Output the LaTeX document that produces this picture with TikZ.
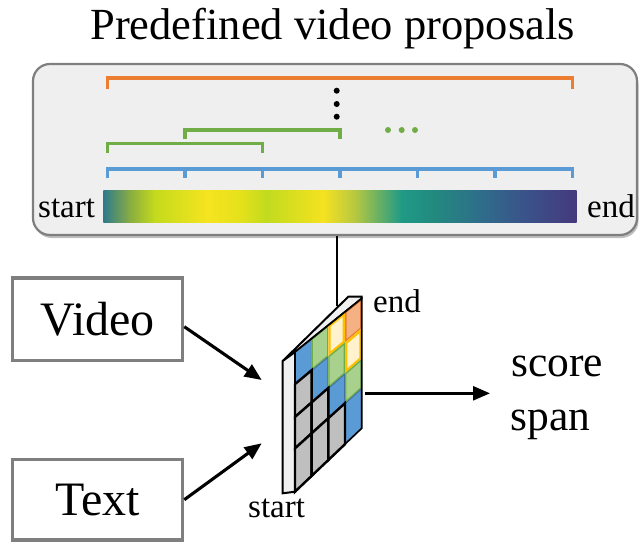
\documentclass[tikz,border=0pt]{standalone}
\usepackage{fontspec}
\setmainfont{Liberation Serif}
\usetikzlibrary{calc,arrows.meta,shadows}

\definecolor{boxfill}{HTML}{EFEFEF}
\definecolor{boxline}{HTML}{7F7F7F}
\definecolor{propOrange}{HTML}{ED7D31}
\definecolor{propGreen}{HTML}{70AD47}
\definecolor{propBlue}{HTML}{5B9BD5}
\definecolor{cBlueF}{HTML}{5B9BD5}
\definecolor{cBlueD}{HTML}{41719C}
\definecolor{cGreenF}{HTML}{A9D18E}
\definecolor{cGreenD}{HTML}{70AD47}
\definecolor{cYellowF}{HTML}{FFF2CC}
\definecolor{cYellowD}{HTML}{FFC000}
\definecolor{cOrangeF}{HTML}{F4B183}
\definecolor{cOrangeD}{HTML}{ED7D31}
\definecolor{cGrayF}{HTML}{BFBFBF}
\definecolor{slab}{HTML}{F0F0F0}

% colour ramp of the feature bar (the bar spans 25bp..75bp of the shading)
\definecolor{v0}{HTML}{2E7A8C}
\definecolor{v1}{HTML}{8DB03E}
\definecolor{v2}{HTML}{C4DB1C}
\definecolor{v3}{HTML}{F6E41F}
\definecolor{v4}{HTML}{E4E11B}
\definecolor{v5}{HTML}{C2DB1E}
\definecolor{v6}{HTML}{F5E220}
\definecolor{v7}{HTML}{B8C93F}
\definecolor{v8}{HTML}{1F9A86}
\definecolor{v9}{HTML}{23897F}
\definecolor{v10}{HTML}{2F6C8B}
\definecolor{v11}{HTML}{3B5089}
\definecolor{v12}{HTML}{45397D}
\pgfdeclarehorizontalshading{featbar}{100bp}{%
  color(0bp)=(v0); color(25bp)=(v0); color(28bp)=(v1); color(30.5bp)=(v2);
  color(36bp)=(v3); color(39.5bp)=(v4); color(42.25bp)=(v5); color(48.25bp)=(v6);
  color(51.5bp)=(v7); color(56.5bp)=(v8); color(60bp)=(v9); color(65bp)=(v10);
  color(70bp)=(v11); color(75bp)=(v12); color(100bp)=(v12)}

\begin{document}
\begin{tikzpicture}[x=1pt,y=-1pt,
  lbl/.style={inner sep=0pt, font=\fontsize{33}{36}\selectfont},
  bigtxt/.style={inner sep=0pt, font=\fontsize{43.5}{48}\selectfont},
  inbox/.style={draw=boxline, line width=3.2pt, fill=white, minimum width=170pt,
    inner sep=0pt, font=\fontsize{48}{52}\selectfont},
  bracket/.style={line width=3.5pt, line join=miter, line cap=butt},
  arrow/.style={line width=3.1pt, -{Triangle[length=17pt,width=14pt]}},
  cell0/.style={fill=cBlueF, draw=cBlueD, line width=1.8pt},
  cell1/.style={fill=cGreenF, draw=cGreenD, line width=2.6pt},
  cell2/.style={fill=cYellowF, draw=cYellowD, line width=4.6pt},
  cell3/.style={fill=cOrangeF, draw=cOrangeD, line width=3pt},
  cellg/.style={fill=cGrayF, draw=black, line width=2.4pt},
  slabface/.style={fill=slab, draw=black, line width=2pt, line join=miter}
]
\useasboundingbox (0,0) rectangle (644,541);
\fill[white] (0,0) rectangle (644,541);

% title
\node[anchor=base, inner sep=0pt, font=\fontsize{44.5}{50}\selectfont]
  (title) at (332.5,39.3) {Predefined video proposals};

% proposal panel
\node[draw=boxline, line width=2.2pt, fill=boxfill, rounded corners=17pt,
  minimum width=604pt, minimum height=171pt,
  drop shadow={shadow xshift=1.5pt, shadow yshift=-3pt, opacity=0.25, fill=black}]
  (props) at (335,149.5) {};

% proposal brackets
\draw[bracket, propOrange] (107.5,89) -- (107.5,78) -- (572.5,78) -- (572.5,89);
\draw[bracket, propGreen] (185,139) -- (185,130) -- (340,130) -- (340,139);
\draw[bracket, propGreen] (107.5,153) -- (107.5,143.5) -- (262.5,143.5) -- (262.5,153);
\draw[bracket, propBlue] (107.5,178) -- (107.5,169) -- (572.5,169) -- (572.5,178);
\foreach \k in {1,...,5}
  \draw[bracket, propBlue] (107.5+77.5*\k,169) -- (107.5+77.5*\k,178);

% ellipses
\foreach \yy in {90.7,104,116.7}
  \fill[black] (336.7,\yy) circle (3pt);
\foreach \xx in {388,401.7,415}
  \fill[propGreen] (\xx,130) circle (3pt);

% feature bar
\shade[shading=featbar] (103.3,190) rectangle (576.7,222.7);
\node[lbl, anchor=base west] (startT) at (38,217.5) {start};
\node[lbl, anchor=base west] (endT) at (587,217.5) {end};

% inputs
\node[inbox, minimum height=82.7pt] (vidbox) at (97.7,319.3) {Video};
\node[inbox, minimum height=80.7pt] (txtbox) at (97.7,499.7) {Text};

% link from the panel to the score map
\coordinate (mtop) at (336.7,306);
\draw[line width=2pt] (props.south -| mtop) -- (mtop);

% score map slab
\coordinate (TL) at (295,352);
\coordinate (TR) at (361.7,298.5);
\coordinate (BR) at (361.7,428.3);
\coordinate (BL) at (295,491.7);
\draw[slabface] (282.7,361) -- (348.3,296.7) -- (361.7,296.7) -- (TR) -- (TL) -- cycle;
\draw[slabface] (282.7,361) -- (TL) -- (BL) -- (282.7,493.3) -- cycle;

\foreach \i/\fv in {0/0,1/0.23,2/0.465,3/0.69,4/1}{
  \foreach \j/\fu in {0/0,1/0.25,2/0.5,3/0.75,4/1}{
    \coordinate (g-\i-\j) at ($($(TL)!\fu!(TR)$)!\fv!($(BL)!\fu!(BR)$)$);
  }
}
% coloured cells (upper triangle), border kept inside each cell
\foreach \i in {0,...,3}{
  \foreach \j in {0,...,3}{
    \pgfmathtruncatemacro\ni{\i+1}
    \pgfmathtruncatemacro\nj{\j+1}
    \pgfmathtruncatemacro\dd{\j-\i}
    \ifnum\dd<0\relax\else
      \begin{scope}
        \clip (g-\i-\j) -- (g-\i-\nj) -- (g-\ni-\nj) -- (g-\ni-\j) -- cycle;
        \draw[cell\dd] (g-\i-\j) -- (g-\i-\nj) -- (g-\ni-\nj) -- (g-\ni-\j) -- cycle;
      \end{scope}
    \fi
  }
}
% grey cells (lower triangle)
\foreach \i in {1,...,3}{
  \foreach \j in {0,...,3}{
    \pgfmathtruncatemacro\ni{\i+1}
    \pgfmathtruncatemacro\nj{\j+1}
    \ifnum\j<\i
      \draw[cellg] (g-\i-\j) -- (g-\i-\nj) -- (g-\ni-\nj) -- (g-\ni-\j) -- cycle;
    \fi
  }
}
\draw[black, line width=1.6pt, line join=miter] (TL) -- (TR) -- (BR) -- (BL) -- cycle;

\node[lbl, anchor=base west] (mend) at (373,312) {end};
\node[lbl, anchor=base west] (mstart) at (248,517.3) {start};

% arrows into and out of the score map
\coordinate (vin) at (261.7,380);
\coordinate (tin) at (261.7,443.3);
\draw[arrow] ([yshift=-7.4pt]vidbox.east) -- (vin);
\draw[arrow] (txtbox.east) -- (tin);

\coordinate (mout) at (365,393.3);
\coordinate (oend) at (490,393.3);
\draw[arrow, line width=2.6pt] (mout) -- (oend);

\node[bigtxt, anchor=base west] (score) at (511,376.7) {score};
\node[bigtxt, anchor=base west] (span) at (510.5,430) {span};
\end{tikzpicture}
\end{document}
